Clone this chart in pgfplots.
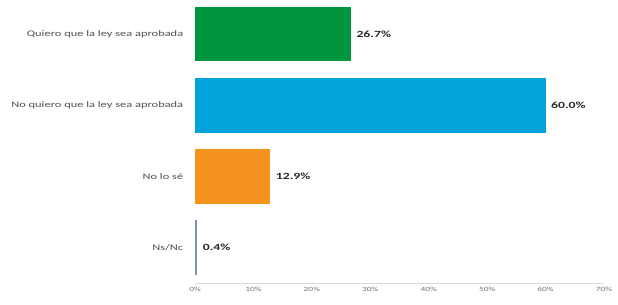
\documentclass[border=0pt]{standalone}
\usepackage{pgfplots}
\pgfplotsset{compat=1.18}
\usepackage{fontspec}
\setmainfont[FakeStretch=1.45]{Carlito}
\definecolor{cgreen}{RGB}{0,150,64}
\definecolor{cblue}{RGB}{0,163,218}
\definecolor{corange}{RGB}{246,146,30}
\definecolor{cnsnc}{RGB}{120,150,180}
\definecolor{ctext}{RGB}{80,80,80}
\definecolor{cval}{RGB}{40,40,40}
\begin{document}
\begin{tikzpicture}
\path[use as bounding box] (-195bp,-22bp) rectangle (423bp,283bp);
\begin{axis}[
  at={(0,0)}, anchor=south west,
  scale only axis,
  width=409bp, height=284.5bp,
  xbar, bar width=0.77,
  xmin=0, xmax=70,
  ymin=-0.5, ymax=3.5,
  y dir=reverse,
  ytick={0,1,2,3},
  yticklabels={Quiero que la ley sea aprobada,No quiero que la ley sea aprobada,No lo sé,Ns/Nc},
  xtick={0,10,20,30,40,50,60,70},
  xticklabel={\pgfmathprintnumber{\tick}\%},
  /pgf/number format/assume math mode=true,
  tick style={draw=none},
  axis x line*=bottom,
  axis y line*=left,
  y axis line style={draw=none},
  x axis line style={draw=black!15, -},
  xticklabel style={font=\fontsize{6.5}{7}\selectfont, text=ctext!80, yshift=-1bp},
  yticklabel style={font=\fontsize{8.6}{10}\selectfont, text=ctext, xshift=-4bp},
  nodes near coords={\pgfmathprintnumber[fixed,fixed zerofill,precision=1]{\pgfplotspointmeta}\%},
  nodes near coords style={font=\bfseries\fontsize{9.5}{11}\selectfont, text=cval, anchor=west, xshift=2bp},
  point meta=x,
  clip=false,
]
\addplot[fill=cgreen, draw=none, bar shift=0] coordinates {(26.7,0)};
\addplot[fill=cblue, draw=none, bar shift=0] coordinates {(60.0,1)};
\addplot[fill=corange, draw=none, bar shift=0] coordinates {(12.9,2)};
\addplot[fill=cnsnc, draw=none, bar shift=0] coordinates {(0.4,3)};
\end{axis}
\end{tikzpicture}
\end{document}
